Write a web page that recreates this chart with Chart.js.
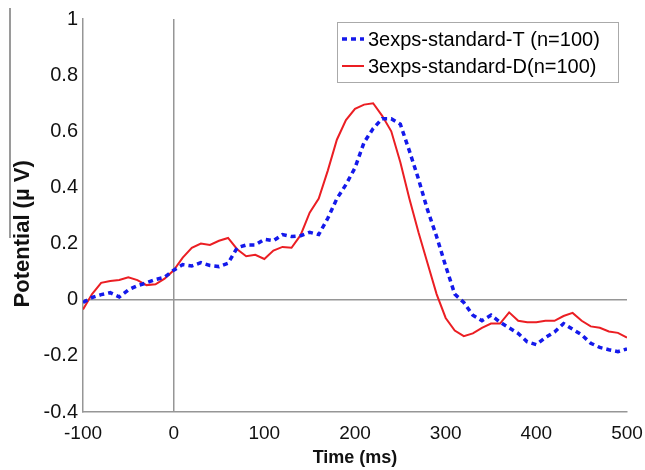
<!DOCTYPE html>
<html>
<head>
<meta charset="utf-8">
<script src="https://cdn.jsdelivr.net/npm/chart.js@4/dist/chart.umd.min.js"></script>
<style>
  html, body { margin: 0; padding: 0; background: #fff; }
  #wrap { width: 645px; height: 470px; }
</style>
</head>
<body>
<div id="wrap"><canvas id="erp"></canvas></div>
<script>
// time axis, 10 ms steps
var times = [-100,-90,-80,-70,-60,-50,-40,-30,-20,-10,
  0,10,20,30,40,50,60,70,80,90,
  100,110,120,130,140,150,160,170,180,190,
  200,210,220,230,240,250,260,270,280,290,
  300,310,320,330,340,350,360,370,380,390,
  400,410,420,430,440,450,460,470,480,490,500];

var standardT = [-0.01,0.008,0.018,0.025,0.01,0.035,0.05,0.06,0.072,0.08,
  0.105,0.125,0.12,0.132,0.122,0.118,0.13,0.185,0.195,0.195,
  0.215,0.21,0.232,0.225,0.228,0.24,0.232,0.29,0.36,0.41,
  0.47,0.56,0.61,0.645,0.645,0.625,0.53,0.43,0.32,0.225,
  0.12,0.02,-0.01,-0.055,-0.075,-0.055,-0.08,-0.1,-0.12,-0.15,
  -0.16,-0.135,-0.115,-0.085,-0.105,-0.125,-0.155,-0.17,-0.178,-0.185,-0.175];

var standardD = [-0.035,0.02,0.06,0.067,0.07,0.08,0.07,0.052,0.055,0.075,
  0.105,0.15,0.185,0.2,0.195,0.21,0.22,0.18,0.155,0.16,
  0.145,0.175,0.188,0.185,0.23,0.31,0.36,0.46,0.57,0.64,
  0.68,0.695,0.70,0.655,0.6,0.49,0.36,0.24,0.13,0.02,
  -0.065,-0.11,-0.13,-0.12,-0.1,-0.085,-0.085,-0.045,-0.075,-0.08,
  -0.08,-0.075,-0.075,-0.058,-0.047,-0.075,-0.095,-0.1,-0.113,-0.118,-0.135];

var xTicks = [-100, 0, 100, 200, 300, 400, 500];
var yTicks = [-0.4, -0.2, 0, 0.2, 0.4, 0.6, 0.8, 1];

function pts(ys) {
  return times.map(function(t, i){ return {x: t, y: ys[i]}; });
}

var axisGrey = 'rgb(150,150,150)';
var blue = 'rgb(20,25,235)';
var red = 'rgb(235,30,35)';

// boxed legend in the top right corner, MATLAB style
var boxLegend = {
  id: 'boxLegend',
  afterDraw: function(chart) {
    var ctx = chart.ctx;
    var x0 = 337, y0 = 22, w = 281, h = 60;
    ctx.save();
    ctx.fillStyle = '#fff';
    ctx.fillRect(x0, y0, w, h);
    ctx.strokeStyle = 'rgb(170,170,170)';
    ctx.lineWidth = 1;
    ctx.strokeRect(x0 + 0.5, y0 + 0.5, w, h);
    ctx.font = '20px "Liberation Sans", Arial, sans-serif';
    ctx.textBaseline = 'middle';
    chart.data.datasets.forEach(function(ds, i) {
      var yy = y0 + 17 + i * 27;
      ctx.beginPath();
      ctx.strokeStyle = ds.borderColor;
      ctx.lineWidth = ds.borderWidth;
      ctx.setLineDash(ds.borderDash || []);
      ctx.moveTo(x0 + 5, yy);
      ctx.lineTo(x0 + 27, yy);
      ctx.stroke();
      ctx.setLineDash([]);
      ctx.fillStyle = '#000';
      ctx.fillText(ds.label, x0 + 31, yy + 1);
    });
    // stray scan line on the left edge
    ctx.beginPath();
    ctx.strokeStyle = 'rgb(120,120,120)';
    ctx.lineWidth = 1.5;
    ctx.moveTo(10, 8);
    ctx.lineTo(10, 238);
    ctx.stroke();
    ctx.restore();
  }
};

new Chart(document.getElementById('erp'), {
  type: 'line',
  data: {
    datasets: [{
      label: '3exps-standard-T (n=100)',
      data: pts(standardT),
      borderColor: blue,
      borderWidth: 3.5,
      borderDash: [5, 4],
      pointRadius: 0,
      tension: 0
    }, {
      label: '3exps-standard-D(n=100)',
      data: pts(standardD),
      borderColor: red,
      borderWidth: 2,
      pointRadius: 0,
      tension: 0
    }]
  },
  options: {
    responsive: true,
    maintainAspectRatio: false,
    animation: false,
    layout: { padding: { top: 19, right: 18, left: 0, bottom: 0 } },
    plugins: {
      legend: { display: false },
      tooltip: { enabled: false }
    },
    scales: {
      x: {
        type: 'linear',
        min: -100,
        max: 500,
        afterBuildTicks: function(s){ s.ticks = xTicks.map(function(v){ return {value: v}; }); },
        afterFit: function(s){ s.height = 58; s.paddingLeft = 0; s.paddingRight = 0; },
        border: { display: true, color: axisGrey, width: 1.5 },
        grid: {
          drawTicks: false,
          lineWidth: 1.5,
          color: function(c){ return c.tick && c.tick.value === 0 ? axisGrey : 'rgba(0,0,0,0)'; }
        },
        ticks: {
          padding: 10,
          color: '#111',
          maxRotation: 0,
          font: { family: '"Liberation Sans", Arial, sans-serif', size: 19 }
        },
        title: {
          display: true,
          text: 'Time (ms)',
          color: '#111',
          padding: { top: 0, bottom: 1 },
          font: { family: '"Liberation Sans", Arial, sans-serif', size: 18, weight: 'bold' }
        }
      },
      y: {
        min: -0.4,
        max: 1,
        afterBuildTicks: function(s){ s.ticks = yTicks.map(function(v){ return {value: v}; }); },
        afterFit: function(s){ s.width = 83; s.paddingTop = 0; s.paddingBottom = 0; },
        border: { display: true, color: axisGrey, width: 1.5 },
        grid: {
          drawTicks: false,
          lineWidth: 1.5,
          color: function(c){ return c.tick && c.tick.value === 0 ? axisGrey : 'rgba(0,0,0,0)'; }
        },
        ticks: {
          padding: 5,
          color: '#111',
          font: { family: '"Liberation Sans", Arial, sans-serif', size: 20 },
          callback: function(v){ return String(Math.round(v * 10) / 10); }
        },
        title: {
          display: true,
          text: 'Potential (\u00b5 V)      ',
          color: '#111',
          padding: { top: 10, bottom: 0 },
          font: { family: '"Liberation Sans", Arial, sans-serif', size: 22, weight: 'bold' }
        }
      }
    }
  },
  plugins: [boxLegend]
});
</script>
</body>
</html>
